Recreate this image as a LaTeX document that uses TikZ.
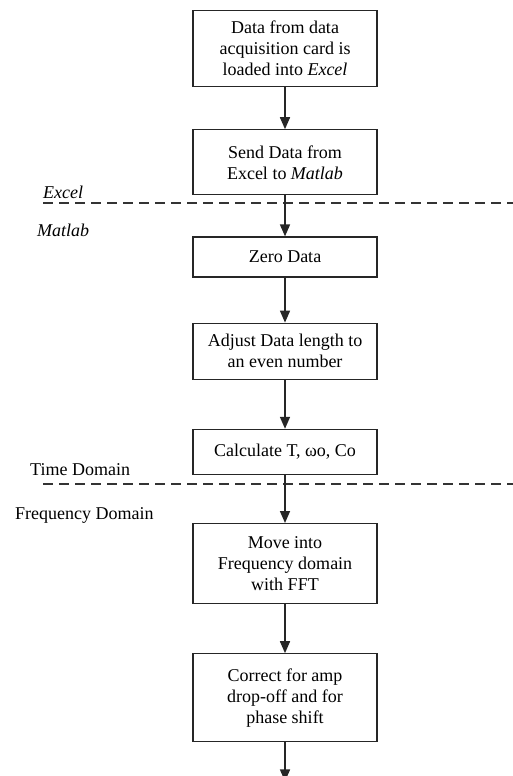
\documentclass[tikz,border=0pt]{standalone}
\usepackage{fontspec}
\setmainfont{Liberation Serif}
\usetikzlibrary{arrows.meta,positioning}

\begin{document}
\begin{tikzpicture}[
  x=1pt,y=-1pt,
  node distance=42pt,
  font=\fontsize{18}{21}\selectfont,
  box/.style={rectangle,draw=black!85,line width=1.2pt,align=center,minimum width=184pt,inner sep=4pt},
  arr/.style={-{Triangle[width=10pt,length=12pt]},line width=1.6pt,black!85},
  divider/.style={line width=1.6pt,black!80,dash pattern=on 10pt off 6pt},
  side/.style={anchor=west,inner sep=0pt}
]
\useasboundingbox (0,0) rectangle (513,776);
\node[box,minimum height=76pt,anchor=north] (load) at (285,10) {Data from data\\acquisition card is\\loaded into \textit{Excel}};
\node[box,minimum height=65pt,below=42pt of load] (send) {Send Data from\\Excel to \textit{Matlab}};
\node[box,minimum height=40pt,below=41pt of send] (zero) {Zero Data};
\node[box,minimum height=56pt,below=45pt of zero] (adjust) {Adjust Data length to\\an even number};
\node[box,minimum height=45pt,below=49pt of adjust] (calc) {Calculate T, ωo, Co};
\node[box,minimum height=80pt,below=48pt of calc] (fft) {Move into\\Frequency domain\\with FFT};
\node[box,minimum height=88pt,below=49pt of fft] (correct) {Correct for amp\\drop-off and for\\phase shift};
\coordinate[below=39pt of correct] (out);

% software / domain boundaries
\draw[divider] (43,203) -- (513,203);
\draw[divider] (43,484) -- (513,484);
\node[side] (excel) at (43,192) {\textit{Excel}};
\node[side] (matlab) at (37,230) {\textit{Matlab}};
\node[side] (time) at (30,470) {Time Domain};
\node[side] (freq) at (15,515) {Frequency Domain};

\draw[arr] (load) -- (send);
\draw[arr] (send) -- (zero);
\draw[arr] (zero) -- (adjust);
\draw[arr] (adjust) -- (calc);
\draw[arr] (calc) -- (fft);
\draw[arr] (fft) -- (correct);
\draw[arr] (correct) -- (out);
\end{tikzpicture}
\end{document}
